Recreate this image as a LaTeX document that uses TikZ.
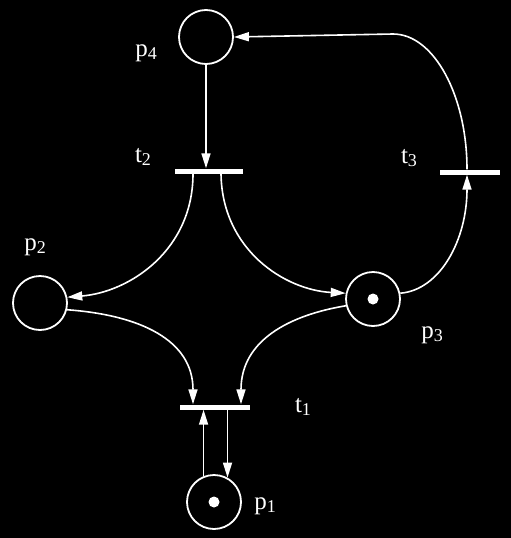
\documentclass[tikz,border=0pt]{standalone}
\usepackage{fontspec}
\setmainfont{Liberation Serif}
\usetikzlibrary{arrows.meta}
\newcommand{\lbl}[2]{#1\raisebox{-0.3ex}{\fontsize{18}{18}\selectfont #2}}
\begin{document}
\begin{tikzpicture}[x=1pt,y=-1pt,
  place/.style={circle,draw=white,line width=1.8pt,minimum size=54pt,inner sep=0pt},
  bar/.style={rectangle,fill=white,minimum height=5pt,inner sep=0pt},
  tok/.style={circle,fill=white,minimum size=11pt,inner sep=0pt},
  arc/.style={draw=white,line width=1.6pt,-{Triangle[length=15pt,width=9pt]}},
  lab/.style={text=white,font=\fontsize{25}{25}\selectfont,inner sep=0pt}]
\fill[black] (0,0) rectangle (511,538);
\useasboundingbox (0,0) rectangle (511,538);
% places
\node[place] (p4) at (206,37) {};
\node[place] (p2) at (40,303) {};
\node[place] (p3) at (373,299) {};
\node[place] (p1) at (214,502) {};
\node[tok] at (p3) {};
\node[tok] at (p1) {};
% transitions
\node[bar,minimum width=68pt] (t2) at (209,171) {};
\node[bar,minimum width=60pt] (t3) at (470,172) {};
\node[bar,minimum width=70pt] (t1) at (215,407) {};
% labels
\node[lab] at (146,53) {\lbl{p}{4}};
\node[lab] at (143,157) {\lbl{t}{2}};
\node[lab] at (409,158) {\lbl{t}{3}};
\node[lab] at (35,247) {\lbl{p}{2}};
\node[lab] at (432,335) {\lbl{p}{3}};
\node[lab] at (303,407) {\lbl{t}{1}};
\node[lab] at (265,506) {\lbl{p}{1}};
% arcs
\draw[arc] (p4.south) -- (p4.south |- t2.north);
\draw[arc] ([xshift=-16pt]t2.south) .. controls (193,250) and (130,292) .. (p2.12);
\draw[arc] ([xshift=12pt]t2.south) .. controls (222,250) and (285,290) .. (p3.168);
\draw[arc] (p2.-14) .. controls (140,315) and (193,340) .. ([xshift=-22pt]t1.north);
\draw[arc] (p3.194) .. controls (290,315) and (241,340) .. ([xshift=26pt]t1.north);
\draw[arc] (p3.12) .. controls (440,290) and (467,240) .. ([xshift=-3pt]t3.south);
\draw[arc] ([xshift=-3pt]t3.north) .. controls (467,96) and (434,34) .. (393,34) -- (p4.east);
\draw[arc] (p1.112) -- (p1.112 |- t1.south);
\draw[arc] (t1.south -| p1.61) -- (p1.61);
\end{tikzpicture}
\end{document}
